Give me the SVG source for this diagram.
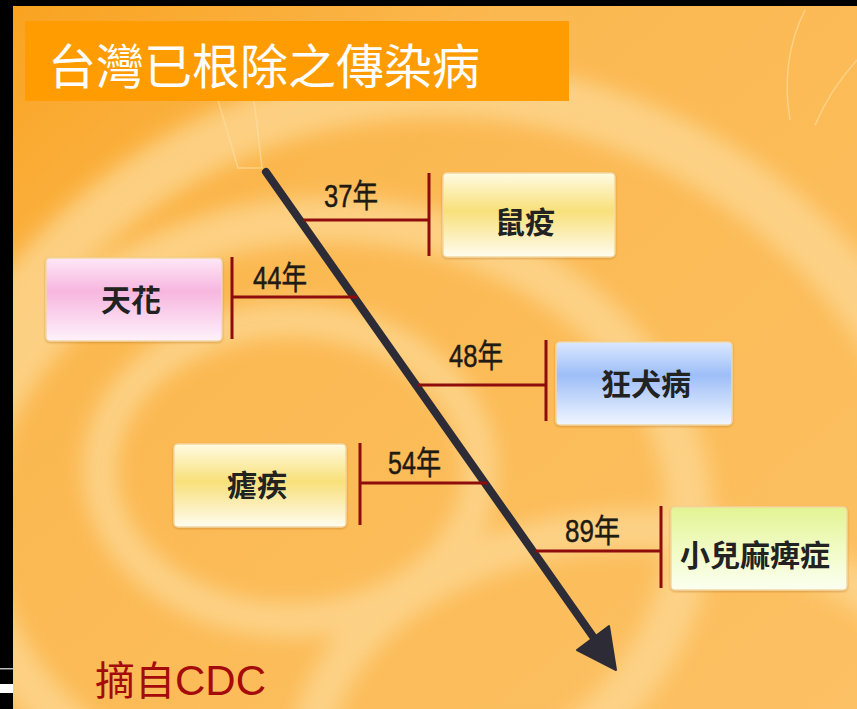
<svg xmlns="http://www.w3.org/2000/svg" width="857" height="709" viewBox="0 0 857 709">
<defs>
<linearGradient id="bg" x1="0" y1="0" x2="1" y2="1">
<stop offset="0" stop-color="#f9a21e"/>
<stop offset="0.3" stop-color="#fbb850"/>
<stop offset="1" stop-color="#fcc164"/>
</linearGradient>
<linearGradient id="gY" x1="0" y1="0" x2="0" y2="1">
<stop offset="0" stop-color="#fffbe2"/>
<stop offset="0.45" stop-color="#f8e07a"/>
<stop offset="1" stop-color="#fffcef"/>
</linearGradient>
<linearGradient id="gP" x1="0" y1="0" x2="0" y2="1">
<stop offset="0" stop-color="#fde8f7"/>
<stop offset="0.4" stop-color="#f7b6df"/>
<stop offset="1" stop-color="#fef2fb"/>
</linearGradient>
<linearGradient id="gB" x1="0" y1="0" x2="0" y2="1">
<stop offset="0" stop-color="#dbe8ff"/>
<stop offset="0.4" stop-color="#9dbef8"/>
<stop offset="1" stop-color="#f1f6ff"/>
</linearGradient>
<linearGradient id="gG" x1="0" y1="0" x2="0" y2="1">
<stop offset="0" stop-color="#e2f493"/>
<stop offset="0.5" stop-color="#f1fbc4"/>
<stop offset="1" stop-color="#fbfff0"/>
</linearGradient>
<filter id="blur" x="-20%" y="-20%" width="140%" height="140%"><feGaussianBlur stdDeviation="10"/></filter>
<filter id="sh" x="-10%" y="-10%" width="120%" height="130%"><feDropShadow dx="0" dy="1" stdDeviation="1.2" flood-color="#b86a10" flood-opacity="0.5"/></filter>
</defs>
<style>
.box{stroke:#f3d7a0;stroke-width:1.5;filter:url(#sh)}
.lbl{font-family:"Noto Sans CJK TC","Noto Sans CJK SC",sans-serif;font-size:30px;font-weight:bold;fill:#222;text-anchor:middle}
.yr{font-family:"Liberation Sans","Noto Sans CJK TC",sans-serif;font-size:32px;fill:#1e1a14;stroke:#1e1a14;stroke-width:0.5}
.con{stroke:#8e0c0c;stroke-width:3;fill:none}
</style>
<rect width="857" height="709" fill="url(#bg)"/>
<g filter="url(#blur)" fill="none" stroke="#fdd791" opacity="0.8">
<ellipse cx="440" cy="650" rx="540" ry="560" stroke-width="55"/>
<ellipse cx="330" cy="520" rx="360" ry="300" stroke-width="45"/>
<ellipse cx="290" cy="470" rx="190" ry="150" stroke-width="35"/>
<ellipse cx="640" cy="760" rx="330" ry="230" stroke-width="40"/>
</g>
<g fill="none" stroke="#fde0a8" stroke-width="1.5" opacity="0.6">
<path d="M218 100 L238 168 L262 168 L254 100"/>
<path d="M805 10 Q780 60 790 120"/>
<path d="M857 60 Q830 90 815 125"/>
</g>
<rect x="0" y="0" width="857" height="6" fill="#000"/>
<rect x="0" y="0" width="13" height="709" fill="#000"/>
<rect x="0" y="668" width="13" height="1.5" fill="#bbb"/>
<rect x="0" y="684" width="13" height="9" fill="#fff"/>
<g id="title">
<rect x="25" y="21" width="544" height="80" fill="#fe9c02"/>
<text x="48" y="84" font-family="Noto Sans CJK TC,sans-serif" font-size="48" fill="#fff">台灣已根除之傳染病</text>
</g>
<g id="connectors">
<line x1="266" y1="172" x2="594" y2="638" stroke="#2c2b36" stroke-width="8" stroke-linecap="round"/>
<polygon points="616,670 577,650 609,626" fill="#2c2b36" stroke="#2c2b36" stroke-width="2" stroke-linejoin="round"/>
<path class="con" d="M303 220 H429 M429 173 V256"/>
<path class="con" d="M357 297 H232 M232 257 V339"/>
<path class="con" d="M418 385 H546 M546 340 V421"/>
<path class="con" d="M487 483 H360 M360 443 V525"/>
<path class="con" d="M535 551 H661 M661 506 V588"/>
<text class="yr" x="324" y="207" textLength="54" lengthAdjust="spacingAndGlyphs">37年</text>
<text class="yr" x="253" y="289" textLength="54" lengthAdjust="spacingAndGlyphs">44年</text>
<text class="yr" x="449" y="367" textLength="54" lengthAdjust="spacingAndGlyphs">48年</text>
<text class="yr" x="388" y="474" textLength="53" lengthAdjust="spacingAndGlyphs">54年</text>
<text class="yr" x="565" y="542" textLength="55" lengthAdjust="spacingAndGlyphs">89年</text>
</g>
<g id="plague">
<rect class="box" x="443" y="173" width="172" height="84" rx="4" fill="url(#gY)"/>
<text class="lbl" x="525" y="233">鼠疫</text>
</g>
<g id="smallpox">
<rect class="box" x="46" y="258" width="176" height="83" rx="4" fill="url(#gP)"/>
<text class="lbl" x="131" y="311">天花</text>
</g>
<g id="rabies">
<rect class="box" x="556" y="342" width="176" height="83" rx="4" fill="url(#gB)"/>
<text class="lbl" x="646" y="395">狂犬病</text>
</g>
<g id="malaria">
<rect class="box" x="174" y="444" width="172" height="83" rx="4" fill="url(#gY)"/>
<text class="lbl" x="257" y="496">瘧疾</text>
</g>
<g id="polio">
<rect class="box" x="671" y="507" width="176" height="83" rx="4" fill="url(#gG)"/>
<text class="lbl" x="755" y="566">小兒麻痺症</text>
</g>
<g id="source">
<text x="95" y="695" font-size="42" fill="#a50b0b"><tspan font-family="Noto Sans CJK TC,serif" font-size="40">摘自</tspan><tspan font-family="Liberation Sans,sans-serif">CDC</tspan></text>
</g>
</svg>
